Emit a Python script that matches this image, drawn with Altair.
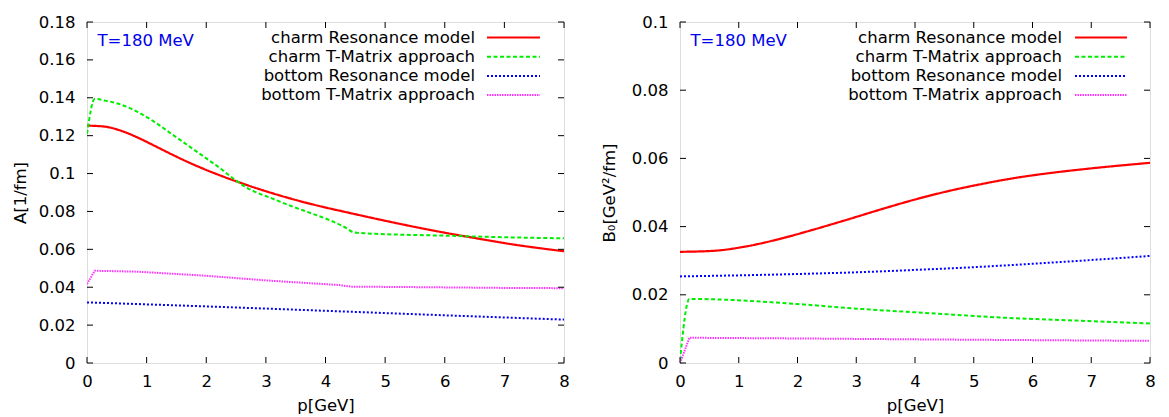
import altair as alt
import pandas as pd

# ---------------- data ----------------
SERIES = ["charm Resonance model", "charm T-Matrix approach",
          "bottom Resonance model", "bottom T-Matrix approach"]

# Left panel: A [1/fm]
pA_charm_res = [0, 0.29, 0.57, 0.85, 1.13, 1.41, 1.69, 1.97, 2.25, 2.53, 2.81, 3.09,
                3.37, 3.65, 3.93, 4.35, 4.91, 5.47, 6.03, 6.59, 7.12, 8]
A_charm_res = [0.1253, 0.1248, 0.1226, 0.1190, 0.1147, 0.1103, 0.1061, 0.1023, 0.0988,
               0.0956, 0.0926, 0.0898, 0.0872, 0.0848, 0.0826, 0.0796, 0.0757, 0.0720,
               0.0686, 0.0655, 0.0627, 0.0590]
pA_charm_tm = [0, 0.13, 0.29, 0.57, 0.85, 1.13, 1.41, 1.69, 1.97, 2.25, 2.47, 2.67,
               2.81, 3.09, 3.37, 3.79, 4.10, 4.35, 4.47, 4.70, 4.91, 6.03, 7.12, 8]
A_charm_tm = [0.1209, 0.1394, 0.1386, 0.1364, 0.1325, 0.1273, 0.1211, 0.1149, 0.1087,
              0.1024, 0.0970, 0.0927, 0.0905, 0.0870, 0.0835, 0.0787, 0.0750, 0.0712,
              0.0690, 0.0684, 0.0681, 0.0672, 0.0663, 0.0658]
pA_bottom_res = [0, 1.97, 4.21, 5.89, 7.12, 8]
A_bottom_res = [0.0320, 0.0299, 0.0273, 0.0253, 0.0239, 0.0229]
pA_bottom_tm = [0, 0.13, 0.85, 1.97, 3.09, 4.21, 4.43, 5.33, 7.12, 8]
A_bottom_tm = [0.0417, 0.0487, 0.0482, 0.0461, 0.0434, 0.0412, 0.0403, 0.0401, 0.0396, 0.0395]

# Right panel: B0 [GeV^2/fm]
pB_charm_res = [0, 0.57, 1.13, 1.70, 2.27, 2.84, 3.41, 3.97, 4.54, 5.11, 5.68, 6.25, 6.96, 8]
B_charm_res = [0.0326, 0.0329, 0.0342, 0.0364, 0.0391, 0.0420, 0.0450, 0.0478, 0.0503,
               0.0524, 0.0542, 0.0556, 0.0570, 0.0587]
pB_charm_tm = [0, 0.16, 0.85, 1.99, 3.12, 4.26, 5.39, 6.96, 8]
B_charm_tm = [0.0007, 0.0188, 0.0185, 0.0173, 0.0158, 0.0146, 0.0134, 0.0123, 0.0116]
pB_bottom_res = [0, 1, 2, 3, 4, 5, 6, 7, 8]
B_bottom_res = [0.0254, 0.0257, 0.0261, 0.0266, 0.0273, 0.0281, 0.0291, 0.0302, 0.0314]
pB_bottom_tm = [0, 0.16, 1.99, 4.26, 6.96, 8]
B_bottom_tm = [0.0000, 0.0074, 0.0072, 0.0069, 0.0066, 0.0065]

x_ticks = [0, 1, 2, 3, 4, 5, 6, 7, 8]
yA_ticks = [0, 0.02, 0.04, 0.06, 0.08, 0.1, 0.12, 0.14, 0.16, 0.18]
yB_ticks = [0, 0.02, 0.04, 0.06, 0.08, 0.1]
label_T = "T=180 MeV"

# ---------------- styles ----------------
FONT = "DejaVu Sans"
FS = 16.5
STYLES = [
    dict(color="#ff0000", strokeDash=[1, 0], strokeWidth=2.2, interpolate="monotone"),
    dict(color="#00ee00", strokeDash=[4, 2.5], strokeWidth=2.0, interpolate="monotone"),
    dict(color="#0000ff", strokeDash=[2, 2], strokeWidth=2.0, interpolate="monotone"),
    dict(color="#ff33ff", strokeDash=[1.5, 1], strokeWidth=2.0, interpolate="linear"),
]
H = 341


def panel(series_data, ydomain, yticks, ytitle, W, leg_text_x, leg_line_x1, leg_line_x2,
          y_title_pad):
    xscale = alt.Scale(domain=[0, 8], nice=False, zero=False)
    yscale = alt.Scale(domain=ydomain, nice=False, zero=False)
    xaxis = alt.Axis(values=x_ticks, format="d", title="p[GeV]", ticks=False, tickSize=0,
                     domain=False, grid=False, labelPadding=10, titlePadding=8,
                     labelFontSize=FS, titleFontSize=FS, titleFontWeight="normal",
                     labelColor="black", titleColor="black", labelFlush=False,
                     labelFont=FONT, titleFont=FONT)
    yaxis = alt.Axis(values=yticks, format="~g", title=ytitle, ticks=False, tickSize=0,
                     domain=False, grid=False, labelPadding=12, titlePadding=y_title_pad,
                     labelFontSize=FS, titleFontSize=FS, titleFontWeight="normal",
                     labelColor="black", titleColor="black", labelFlush=False,
                     labelFont=FONT, titleFont=FONT)
    X = alt.X("p:Q", scale=xscale, axis=xaxis)
    Y = alt.Y("value:Q", scale=yscale, axis=yaxis)

    layers = []
    for (pp, vv), st in zip(series_data, STYLES):
        df = pd.DataFrame({"p": pp, "value": vv})
        layers.append(alt.Chart(df).mark_line(clip=True, **st).encode(x=X, y=Y))

    # inward tick marks on all four sides (gnuplot style)
    xt = pd.DataFrame({"p": x_ticks})
    yt = pd.DataFrame({"value": yticks})
    tk = dict(color="black", strokeWidth=1)
    layers.append(alt.Chart(xt).mark_rule(**tk).encode(x=X, y=alt.value(H - 6), y2=alt.value(H)))
    layers.append(alt.Chart(xt).mark_rule(**tk).encode(x=X, y=alt.value(0), y2=alt.value(6)))
    layers.append(alt.Chart(yt).mark_rule(**tk).encode(y=Y, x=alt.value(0), x2=alt.value(6)))
    layers.append(alt.Chart(yt).mark_rule(**tk).encode(y=Y, x=alt.value(W - 6), x2=alt.value(W)))

    # key (label left of sample line, as in gnuplot)
    for i, (name, st) in enumerate(zip(SERIES, STYLES)):
        ry = 15.5 + i * 19.2
        d = pd.DataFrame({"label": [name]})
        layers.append(alt.Chart(d).mark_text(align="right", baseline="middle", font=FONT,
                                             fontSize=FS, color="black").encode(
            text="label:N", x=alt.value(leg_text_x), y=alt.value(ry)))
        lst = {k: v for k, v in st.items() if k != "interpolate"}
        layers.append(alt.Chart(d).mark_rule(**lst).encode(
            x=alt.value(leg_line_x1), x2=alt.value(leg_line_x2), y=alt.value(ry)))

    dT = pd.DataFrame({"label": [label_T]})
    layers.append(alt.Chart(dT).mark_text(align="left", baseline="middle", font=FONT,
                                          fontSize=FS, color="#0000ee").encode(
        text="label:N", x=alt.value(10.5), y=alt.value(18.5)))

    return alt.layer(*layers).properties(width=W, height=H)


left = panel([(pA_charm_res, A_charm_res), (pA_charm_tm, A_charm_tm),
              (pA_bottom_res, A_bottom_res), (pA_bottom_tm, A_bottom_tm)],
             [0, 0.18], yA_ticks, "A[1/fm]", 477, 388, 400, 453, 10)
right = panel([(pB_charm_res, B_charm_res), (pB_charm_tm, B_charm_tm),
               (pB_bottom_res, B_bottom_res), (pB_bottom_tm, B_bottom_tm)],
              [0, 0.1], yB_ticks, "B₀[GeV²/fm]", 470, 382, 395, 447, 14)

chart = alt.hconcat(left, right, spacing=30).properties(
    padding={"left": 11, "top": 13, "right": 5, "bottom": 5},
    background="white",
).configure_view(stroke="black", strokeWidth=1.2).configure(font=FONT)

chart.save("out.html", embed_options={"renderer": "svg", "actions": False})
